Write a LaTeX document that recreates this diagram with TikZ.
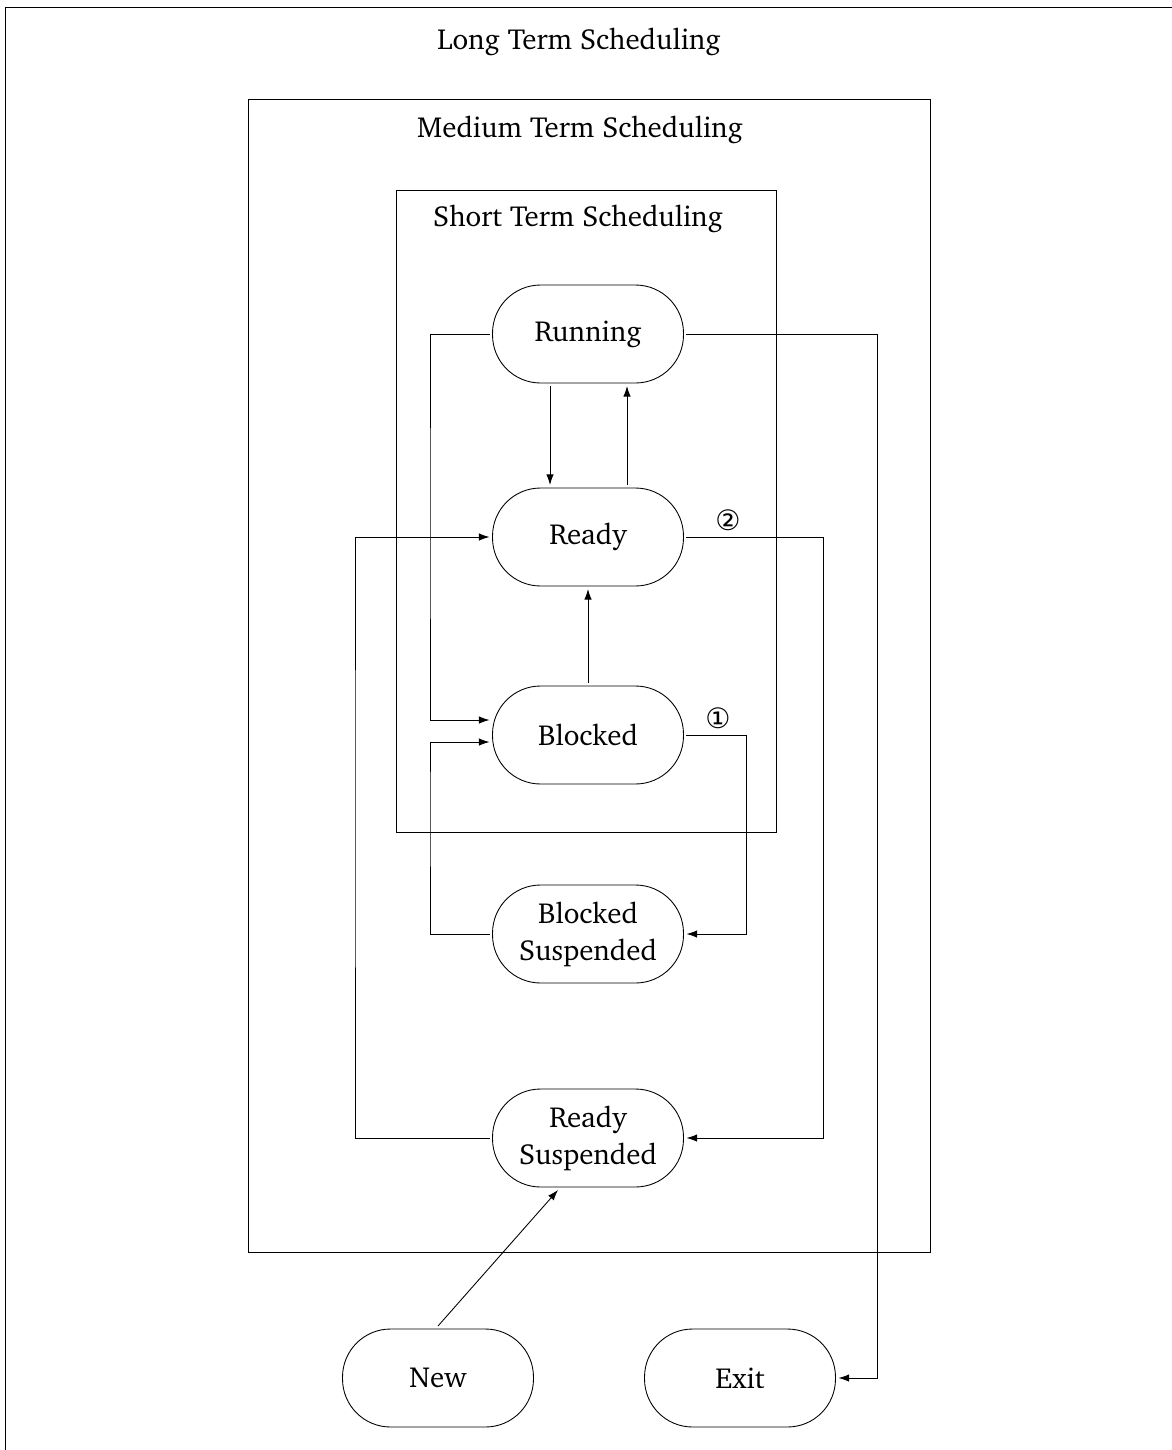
\documentclass[tikz,border=0pt]{standalone}
\usepackage{fontspec}
\newfontfamily\circfont{DejaVu Sans}
\usepackage[T1]{fontenc}
\usepackage{charter}
\usepackage{tikz}
\usetikzlibrary{arrows.meta,calc,positioning}

\begin{document}
\begin{tikzpicture}[
    x=0.02cm, y=-0.02cm,
    font=\fontsize{16.5}{21}\selectfont,
    line width=0.5pt,
    >={Latex[length=6pt,width=4.2pt]},
    state/.style={draw, rounded corners=0.96cm, minimum width=3.82cm, minimum height=1.96cm,
        align=center, inner sep=0pt, outer sep=0.06cm},
    frame/.style={draw, line width=0.5pt},
    ttl/.style={anchor=center},
    numlbl/.style={font=\circfont\fontsize{16}{16}\selectfont},
]
\clip (0,0) rectangle (1172,1450);

% ---- scheduling levels ----
\draw[frame] (5,7) rectangle (1190,1470);
\node[ttl] (tlong) at (579,42) {Long Term Scheduling};
\draw[frame] (248,99) rectangle (930,1252);
\node[ttl] (tmed) at (580,130) {Medium Term Scheduling};
\draw[frame] (396,190) rectangle (776,832);
\node[ttl] (tshort) at (578,219) {Short Term Scheduling};

% ---- states ----
\node[state] (run) at (588,334) {Running};
\node[state] (rdy) at (588,537) {Ready};
\node[state] (blk) at (588,735) {Blocked};
\node[state] (bsp) at (588,934) {Blocked\\Suspended};
\node[state] (rsp) at (588,1138) {Ready\\Suspended};
\node[state] (new) at (438,1378) {New};
\node[state] (ext) at (740,1378) {Exit};

% ---- transitions ----
\draw[->] ($(run.south)+(-38,0)$) -- ($(rdy.north)+(-38,0)$);
\draw[->] ($(rdy.north)+(39,0)$) -- ($(run.south)+(39,0)$);
\draw[->] (blk.north) -- (rdy.south);
\draw[->] (run.west) -| (430,520) |- ($(blk.west)+(0,-15)$);
\draw[->] (run.east) -| (877,900) |- (ext.east);
\draw[->] (rdy.east) -| (823,900) |- (rsp.east);
\draw[->] (rsp.west) -| (355,800) |- (rdy.west);
\draw[->] (blk.east) -| (746,850) |- (bsp.east);
\draw[->] (bsp.west) -| (430,800) |- ($(blk.west)+(0,7)$);
\draw[->] (new.north) -- ($(rsp.south)+(-30,0)$);

\node[numlbl] (m1) at (718,718) {①};
\node[numlbl] (m2) at (728,520) {②};
\end{tikzpicture}
\end{document}
